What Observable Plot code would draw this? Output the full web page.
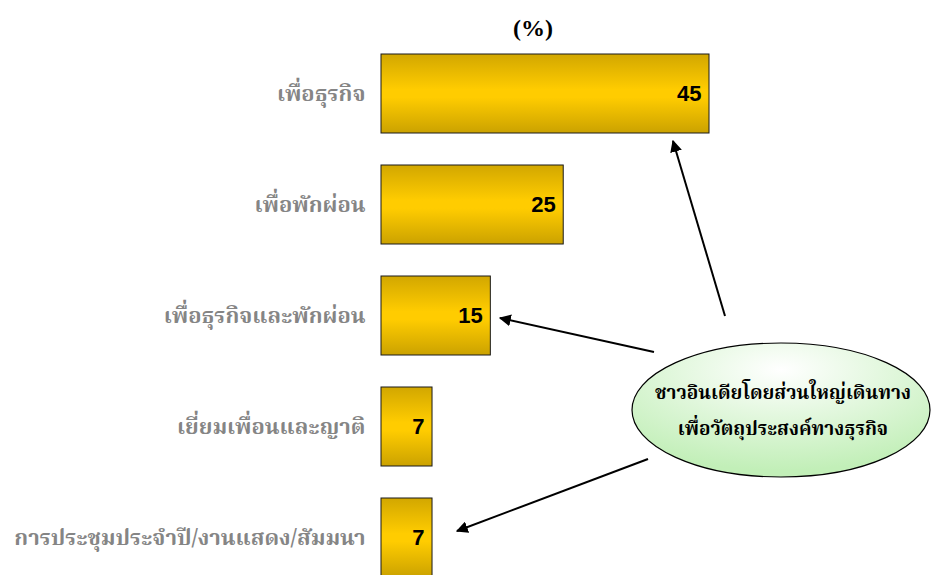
<!DOCTYPE html>
<html>
<head>
<meta charset="utf-8">
<script src="https://cdn.jsdelivr.net/npm/d3@7"></script>
<script src="https://cdn.jsdelivr.net/npm/@observablehq/plot@0.6"></script>
<style>
  html, body { margin: 0; padding: 0; background: #fff; }
  #chart { width: 932px; height: 575px; overflow: hidden; }
</style>
</head>
<body>
<div id="chart"></div>
<script>
const categories = [
  "เพื่อธุรกิจ",
  "เพื่อพักผ่อน",
  "เพื่อธุรกิจและพักผ่อน",
  "เยี่ยมเพื่อนและญาติ",
  "การประชุมประจำปี/งานแสดง/สัมมนา"
];
const values = [45, 25, 15, 7, 7];
const unitLabel = "(%)";
const calloutLines = ["ชาวอินเดียโดยส่วนใหญ่เดินทาง", "เพื่อวัตถุประสงค์ทางธุรกิจ"];

const thaiFont = "Norasi, 'Noto Serif Thai', 'Liberation Serif', 'DejaVu Serif', serif";
const data = categories.map((c, i) => ({category: c, value: values[i]}));

const plot = Plot.plot({
  width: 932,
  height: 575,
  marginLeft: 381,
  marginTop: 22,
  marginRight: 0,
  marginBottom: 0,
  style: {background: "#fff", overflow: "visible"},
  x: {domain: [0, 45], range: [381, 709], axis: null},
  y: {domain: categories, range: [22, 609], padding: 0.288, axis: null},
  marks: [
    Plot.axisY({
      tickSize: 0,
      tickPadding: 16,
      fontSize: 22,
      fontWeight: "bold",
      fontFamily: thaiFont,
      fill: "#858585",
      label: null
    }),
    Plot.barX(data, {
      x: "value",
      y: "category",
      fill: "url(#goldGrad)",
      stroke: "#1a1a1a",
      strokeWidth: 1
    }),
    Plot.text(data, {
      x: "value",
      y: "category",
      text: d => String(d.value),
      textAnchor: "end",
      dx: -8,
      fontSize: 22,
      fontWeight: "bold",
      fontFamily: "'Liberation Sans', Arial, sans-serif",
      fill: "#000"
    })
  ]
});

document.getElementById("chart").appendChild(plot);

const svg = d3.select(plot);
const defs = svg.insert("defs", ":first-child");
const g1 = defs.append("linearGradient").attr("id", "goldGrad")
  .attr("x1", 0).attr("y1", 0).attr("x2", 0).attr("y2", 1);
g1.append("stop").attr("offset", "0%").attr("stop-color", "#d2a700");
g1.append("stop").attr("offset", "45%").attr("stop-color", "#ffcc00");
g1.append("stop").attr("offset", "55%").attr("stop-color", "#ffcc00");
g1.append("stop").attr("offset", "100%").attr("stop-color", "#cba200");

const g2 = defs.append("radialGradient").attr("id", "greenGrad")
  .attr("cx", "50%").attr("cy", "20%").attr("r", "75%");
g2.append("stop").attr("offset", "0%").attr("stop-color", "#ffffff");
g2.append("stop").attr("offset", "100%").attr("stop-color", "#c2efb8");

const marker = defs.append("marker").attr("id", "arrowHead")
  .attr("viewBox", "0 0 10 10").attr("refX", 9).attr("refY", 5)
  .attr("markerWidth", 6).attr("markerHeight", 6)
  .attr("markerUnits", "strokeWidth")
  .attr("orient", "auto");
marker.append("path").attr("d", "M0,0 L10,5 L0,10 z").attr("fill", "#000");

// title
svg.append("text")
  .attr("x", 533).attr("y", 36)
  .attr("text-anchor", "middle")
  .attr("font-family", "'Liberation Serif', 'Times New Roman', serif")
  .attr("font-weight", "bold")
  .attr("font-size", 24)
  .attr("fill", "#000")
  .text(unitLabel);

// arrows
const arrows = [
  [725, 316, 673, 141],
  [654, 352, 500, 318],
  [648, 459, 457, 531]
];
svg.append("g").selectAll("line").data(arrows).join("line")
  .attr("x1", d => d[0]).attr("y1", d => d[1])
  .attr("x2", d => d[2]).attr("y2", d => d[3])
  .attr("stroke", "#000").attr("stroke-width", 2)
  .attr("marker-end", "url(#arrowHead)");

// callout ellipse
svg.append("ellipse")
  .attr("cx", 781).attr("cy", 410).attr("rx", 149).attr("ry", 67)
  .attr("fill", "url(#greenGrad)")
  .attr("stroke", "#000").attr("stroke-width", 1.2);

svg.append("g").selectAll("text").data(calloutLines).join("text")
  .attr("x", 783)
  .attr("y", (d, i) => 399 + i * 36)
  .attr("text-anchor", "middle")
  .attr("font-family", thaiFont)
  .attr("font-weight", "bold")
  .attr("font-size", 19)
  .attr("fill", "#000")
  .text(d => d);
</script>
</body>
</html>
